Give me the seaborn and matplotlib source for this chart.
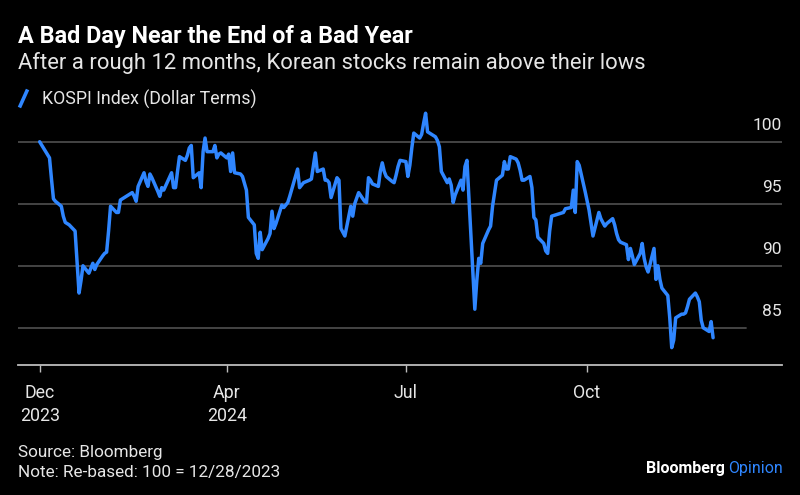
import numpy as np
import pandas as pd
import matplotlib
matplotlib.use('Agg')
import matplotlib.pyplot as plt
import matplotlib.transforms as mtransforms
from matplotlib.lines import Line2D
import seaborn as sns

# KOSPI in dollar terms, re-based to 100 on 12/28/2023
dates = [
    '2023-12-28',
    '2024-01-02', '2024-01-03', '2024-01-04', '2024-01-05', '2024-01-08', '2024-01-09',
    '2024-01-10', '2024-01-11', '2024-01-12', '2024-01-15', '2024-01-16', '2024-01-17',
    '2024-01-18', '2024-01-19', '2024-01-22', '2024-01-23', '2024-01-24', '2024-01-25',
    '2024-01-26', '2024-01-29', '2024-01-30', '2024-01-31',
    '2024-02-01', '2024-02-02', '2024-02-05', '2024-02-06', '2024-02-07', '2024-02-08',
    '2024-02-13', '2024-02-14', '2024-02-15', '2024-02-16', '2024-02-19', '2024-02-20',
    '2024-02-21', '2024-02-22', '2024-02-23', '2024-02-26', '2024-02-27', '2024-02-28',
    '2024-02-29',
    '2024-03-04', '2024-03-05', '2024-03-06', '2024-03-07', '2024-03-08', '2024-03-11',
    '2024-03-12', '2024-03-13', '2024-03-14', '2024-03-15', '2024-03-18', '2024-03-19',
    '2024-03-20', '2024-03-21', '2024-03-22', '2024-03-25', '2024-03-26', '2024-03-27',
    '2024-03-28', '2024-03-29',
    '2024-04-01', '2024-04-02', '2024-04-03', '2024-04-04', '2024-04-05', '2024-04-08',
    '2024-04-09', '2024-04-11', '2024-04-12', '2024-04-15', '2024-04-16', '2024-04-17',
    '2024-04-18', '2024-04-19', '2024-04-22', '2024-04-23', '2024-04-24', '2024-04-25',
    '2024-04-26', '2024-04-29', '2024-04-30',
    '2024-05-02', '2024-05-03', '2024-05-07', '2024-05-08', '2024-05-09', '2024-05-10',
    '2024-05-13', '2024-05-14', '2024-05-16', '2024-05-17', '2024-05-20', '2024-05-21',
    '2024-05-22', '2024-05-23', '2024-05-24', '2024-05-27', '2024-05-28', '2024-05-29',
    '2024-05-30', '2024-05-31',
    '2024-06-03', '2024-06-04', '2024-06-05', '2024-06-07', '2024-06-10', '2024-06-11',
    '2024-06-12', '2024-06-13', '2024-06-14', '2024-06-17', '2024-06-18', '2024-06-19',
    '2024-06-20', '2024-06-21', '2024-06-24', '2024-06-25', '2024-06-26', '2024-06-27',
    '2024-06-28',
    '2024-07-01', '2024-07-02', '2024-07-03', '2024-07-04', '2024-07-05', '2024-07-08',
    '2024-07-09', '2024-07-10', '2024-07-11', '2024-07-12', '2024-07-15', '2024-07-16',
    '2024-07-17', '2024-07-18', '2024-07-19', '2024-07-22', '2024-07-23', '2024-07-24',
    '2024-07-25', '2024-07-26', '2024-07-29', '2024-07-30', '2024-07-31',
    '2024-08-01', '2024-08-02', '2024-08-05', '2024-08-06', '2024-08-07', '2024-08-08',
    '2024-08-09', '2024-08-12', '2024-08-13', '2024-08-14', '2024-08-16', '2024-08-19',
    '2024-08-20', '2024-08-21', '2024-08-22', '2024-08-23', '2024-08-26', '2024-08-27',
    '2024-08-28', '2024-08-29', '2024-08-30',
    '2024-09-02', '2024-09-03', '2024-09-04', '2024-09-05', '2024-09-06', '2024-09-09',
    '2024-09-10', '2024-09-11', '2024-09-12', '2024-09-13', '2024-09-19', '2024-09-20',
    '2024-09-23', '2024-09-24', '2024-09-25', '2024-09-26', '2024-09-27', '2024-09-30',
    '2024-10-02', '2024-10-04', '2024-10-07', '2024-10-08', '2024-10-10', '2024-10-11',
    '2024-10-14', '2024-10-15', '2024-10-16', '2024-10-17', '2024-10-18', '2024-10-21',
    '2024-10-22', '2024-10-23', '2024-10-24', '2024-10-25', '2024-10-28', '2024-10-29',
    '2024-10-30', '2024-10-31',
    '2024-11-01', '2024-11-04', '2024-11-05', '2024-11-06', '2024-11-07', '2024-11-08',
    '2024-11-11', '2024-11-12', '2024-11-13', '2024-11-14', '2024-11-15', '2024-11-18',
    '2024-11-19', '2024-11-20', '2024-11-21', '2024-11-22', '2024-11-25', '2024-11-26',
    '2024-11-27', '2024-11-28', '2024-11-29',
    '2024-12-02', '2024-12-03', '2024-12-04',
]
kospi = [
    100.0,
    98.7, 97.0, 95.4, 95.2, 94.8, 94.0,
    93.5, 93.4, 93.3, 92.8, 90.3, 87.8,
    88.8, 90.0, 89.4, 89.8, 90.2, 89.7,
    90.1, 90.8, 91.0, 91.1,
    92.8, 94.8, 94.3, 94.3, 95.3, 95.4,
    95.9, 95.6, 95.2, 96.4, 97.5, 96.8,
    96.4, 97.4, 97.1, 96.0, 95.6, 96.3,
    96.1,
    97.5, 96.3, 96.3, 97.6, 98.8, 98.5,
    98.9, 99.5, 99.7, 97.1, 97.5, 96.3,
    99.2, 100.3, 99.2, 99.2, 99.7, 98.7,
    99.0, 99.1,
    98.7, 99.0, 97.6, 99.1, 97.5, 97.4,
    97.2, 96.1, 93.9, 93.3, 91.0, 90.6,
    92.7, 91.3, 92.2, 92.6, 94.4, 93.0,
    93.4, 94.9, 94.7,
    95.1, 95.6, 97.8, 96.3, 96.5, 96.7,
    96.9, 97.0, 99.1, 97.6, 97.8, 96.9,
    96.9, 96.7, 95.5, 97.1, 96.9, 93.0,
    92.7, 92.4,
    94.8, 94.0, 95.0, 95.9, 95.2, 95.1,
    97.1, 96.9, 96.6, 96.4, 97.6, 98.3,
    97.6, 97.2, 96.8, 96.7, 97.3, 98.0,
    98.5,
    98.4, 97.2, 98.1, 99.5, 100.7, 100.3,
    100.6, 101.5, 102.3, 100.8, 100.5, 100.4,
    100.1, 99.6, 97.6, 96.7, 97.0, 96.5,
    95.1, 95.7, 96.9, 96.1, 98.0,
    98.5, 95.5, 86.5, 88.8, 90.6, 90.2,
    91.8, 92.9, 93.2, 94.8, 96.9, 97.3,
    98.4, 97.8, 97.8, 98.8, 98.6, 98.3,
    97.7, 96.9, 96.9,
    97.2, 96.3, 93.9, 93.7, 92.3, 91.8,
    91.2, 91.0, 92.8, 94.0, 94.3, 94.6,
    94.7, 96.1, 94.3, 98.4, 98.1, 96.0,
    94.5, 92.4, 94.3, 93.8, 93.2, 93.4,
    93.8, 93.3, 92.6, 92.1, 91.9, 91.7,
    90.5, 91.4, 90.8, 90.1, 91.0, 91.8,
    90.6, 89.9,
    89.5, 91.4, 88.9, 90.0, 88.9, 88.2,
    87.6, 85.8, 83.4, 84.0, 85.8, 86.1,
    86.1, 86.2, 86.7, 87.3, 87.8, 87.5,
    87.1, 85.6, 85.0,
    84.7, 85.5, 84.2,
]

tick_dates = ['2023-12-28', '2024-04-01', '2024-07-01', '2024-10-01']
tick_labels = ['Dec\n2023', 'Apr\n2024', 'Jul', 'Oct']
y_ticks = [85, 90, 95, 100]

BG = '#000000'
BLUE = '#2f86ff'
GRID = '#4a4a4a'
AXIS = '#bdbdbd'
TEXT = '#e6e6e6'

sns.set_style('dark', {'axes.facecolor': BG, 'figure.facecolor': BG})
plt.rcParams['font.family'] = ['Roboto', 'DejaVu Sans']

df = pd.DataFrame({'date': pd.to_datetime(dates), 'kospi': kospi})

W, H = 800, 495
fig = plt.figure(figsize=(W / 100, H / 100), dpi=100, facecolor=BG)
ax = fig.add_axes([18 / W, 1 - 365 / H, 764 / W, 255 / H])
ax.set_facecolor(BG)

sns.lineplot(data=df, x='date', y='kospi', color=BLUE, lw=2.5, ax=ax, zorder=3)

ax.set_xlim(pd.Timestamp('2023-12-17'), pd.Timestamp('2025-01-08'))
ax.set_ylim(82.0, 102.56)
ax.grid(False)

# horizontal rules, the lowest one stops short of the right edge
for v in y_ticks:
    ax.axhline(v, color=GRID, lw=1.3, xmax=0.953 if v == 85 else 1.0, zorder=1)

# value labels sit above their rules on the right
lbl_tf = mtransforms.offset_copy(ax.get_yaxis_transform(), fig=fig, x=0, y=16, units='dots')
for v in y_ticks:
    ax.text(1.0, v, str(v), transform=lbl_tf, ha='right', va='center',
            color=TEXT, fontsize=12.5)

for s in ['top', 'left', 'right']:
    ax.spines[s].set_visible(False)
ax.spines['bottom'].set_color(AXIS)
ax.spines['bottom'].set_linewidth(1.3)

ax.set_yticks([])
ax.set_xticks(pd.to_datetime(tick_dates))
ax.set_xticklabels(tick_labels)
ax.tick_params(axis='x', length=5, width=1, color=AXIS, labelcolor=TEXT,
               labelsize=12.8, pad=9, bottom=True)
for lbl in ax.get_xticklabels():
    lbl.set_linespacing(1.3)
ax.set_xlabel('')
ax.set_ylabel('')

# titles
fig.text(18 / W, 1 - 36 / H, 'A Bad Day Near the End of a Bad Year', color='white',
         fontsize=16.8, fontweight='bold', va='center', ha='left')
fig.text(18 / W, 1 - 63 / H, 'After a rough 12 months, Korean stocks remain above their lows',
         color=TEXT, fontsize=15.8, va='center', ha='left')

# legend
handle = Line2D([0], [0], color=BLUE, lw=0, marker=[(-0.45, -1), (0.45, 1)],
                markersize=13, markeredgewidth=2.6, markeredgecolor=BLUE)
fig.legend([handle], ['KOSPI Index (Dollar Terms)'], loc='center left',
           bbox_to_anchor=(14 / W, 1 - 99 / H), frameon=False, fontsize=12.8,
           labelcolor=TEXT, handlelength=1.0, handletextpad=0.6, borderpad=0,
           borderaxespad=0)

# footer
fig.text(18 / W, 1 - 453 / H, 'Source: Bloomberg', color=TEXT, fontsize=12.3,
         va='center', ha='left')
fig.text(18 / W, 1 - 473 / H, 'Note: Re-based: 100 = 12/28/2023', color=TEXT,
         fontsize=12.3, va='center', ha='left')
op = fig.text(783 / W, 1 - 468 / H, 'Opinion', color=BLUE, fontsize=11.5,
              va='center', ha='right')
fig.canvas.draw()
bb = op.get_window_extent()
fig.text((bb.x0 - 3) / W, 1 - 468 / H, 'Bloomberg', color='white', fontsize=11.5,
         fontweight='bold', va='center', ha='right')

fig.savefig('out.png', dpi=100, facecolor=BG)
